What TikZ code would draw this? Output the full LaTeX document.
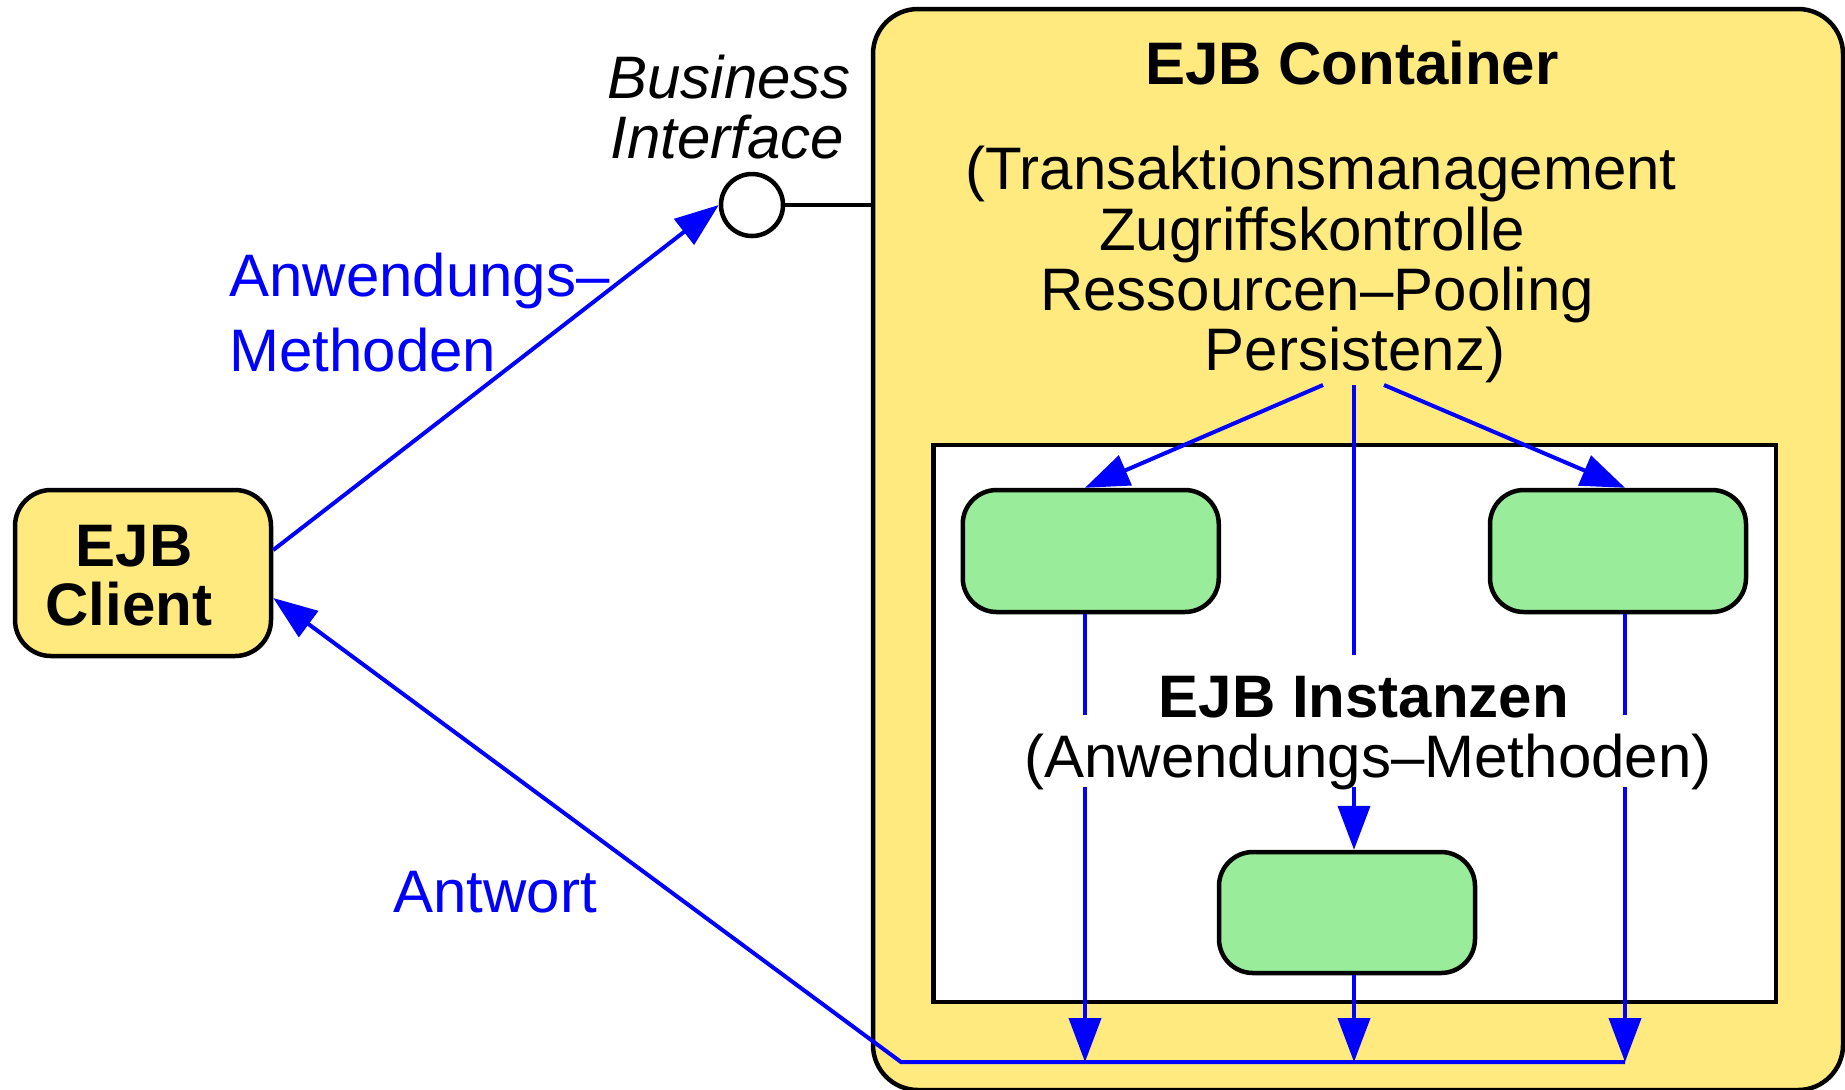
\documentclass[tikz,border=0pt]{standalone}
\usepackage{fontspec}
\setmainfont{Liberation Sans}
\usetikzlibrary{arrows.meta}
\definecolor{ejbyellow}{RGB}{255,234,128}
\definecolor{ejbgreen}{RGB}{153,236,153}
\definecolor{ejbblue}{RGB}{0,0,255}
\begin{document}
\begin{tikzpicture}[x=0.5pt,y=-0.5pt,
  txt/.style={font=\fontsize{30}{30}\selectfont, inner sep=0pt},
  boldtxt/.style={font=\fontsize{30}{30}\selectfont\bfseries, inner sep=0pt},
  itxt/.style={font=\fontsize{30}{30}\selectfont\itshape, inner sep=0pt},
  bluetxt/.style={txt, text=ejbblue},
  instbox/.style={draw=black, line width=2.25pt, fill=ejbgreen, rounded corners=17pt,
    minimum width=128pt, minimum height=61pt, inner sep=0pt},
  flow/.style={draw=ejbblue, line width=2pt},
  tipped/.style={-{Triangle[length=22pt,width=16pt]}},
  gapbox/.style={fill=white, inner xsep=0pt, inner ysep=0pt, text height=31pt},
]
\useasboundingbox (0,0) rectangle (1845,1089);
\clip (0,0) rectangle (1845,1089);

% container
\node[draw, line width=2.25pt, fill=ejbyellow, rounded corners=22.5pt,
  minimum width=485pt, minimum height=540.5pt, inner sep=0pt] (container) at (1358,549.5) {};
\node[draw, line width=2.25pt, fill=white, minimum width=421.25pt, minimum height=278.5pt,
  inner sep=0pt] (pool) at (1354.75,723.5) {};
\node[instbox] (inL) at (1090.75,551) {};
\node[instbox] (inR) at (1618,551) {};
\node[instbox, minimum height=60.5pt] (inB) at (1347,912.5) {};

% client
\node[draw, line width=2.25pt, fill=ejbyellow, rounded corners=18pt,
  minimum width=128pt, minimum height=83pt, inner sep=0pt] (client) at (143,573) {};
\node[boldtxt, anchor=base] (cl1) at (134,566) {EJB};
\node[boldtxt, anchor=base] (cl2) at (129,625) {Client};

% interface
\node[circle, draw, line width=2.25pt, fill=white, minimum size=31pt, inner sep=0pt] (iface) at (752,205) {};
\draw[line width=2pt] (iface.east) -- (iface.east -| container.west);
\node[itxt, anchor=base west] (bi1) at (607,98) {Business};
\node[itxt, anchor=base west] (bi2) at (610,158) {Interface};

% container texts
\node[boldtxt, anchor=base] (ctitle) at (1352,84) {EJB Container};
\node[txt, anchor=base] (s1) at (1321,189) {(Transaktionsmanagement};
\node[txt, anchor=base] (s2) at (1312,250) {Zugriffskontrolle};
\node[txt, anchor=base] (s3) at (1317,310) {Ressourcen–Pooling};
\node[txt, anchor=base] (s4) at (1355,370) {Persistenz)};

% coordinates
\coordinate (srcL) at (1323,385);
\coordinate (srcC) at (1354,385);
\coordinate (srcR) at (1384,385);
\coordinate (colL) at (1085,0);
\coordinate (colC) at (1354,0);
\coordinate (colR) at (1625,0);
\coordinate (busL) at (901,1062);
\coordinate (busR) at (1625,1062);

% flows inside container
\draw[flow,tipped] (srcL) -- (colL |- inL.north);
\draw[flow,tipped] (srcR) -- (colR |- inR.north);
\draw[flow,tipped] (srcC) -- (colC |- inB.north);
\draw[flow,tipped] (inL.south -| colL) -- (colL |- busL);
\draw[flow,tipped] (inR.south -| colR) -- (colR |- busL);
\draw[flow,tipped] (inB.south -| colC) -- (colC |- busL);

% instance labels (cover the lines)
\node[txt, gapbox, text depth=5pt, anchor=base] (it2) at (1368,777) {(Anwendungs–Methoden)};
\node[boldtxt, gapbox, text depth=2pt, anchor=base] (it1) at (1364,717) {EJB Instanzen};

% client connectors
\draw[flow,tipped] ([yshift=11.5pt]client.east) -- (iface.west);
\draw[flow,tipped] (busR) -- (busL) -- ([yshift=-12.5pt]client.east);

% blue labels
\node[bluetxt, anchor=base west] (lab1) at (229,296) {Anwendungs–};
\node[bluetxt, anchor=base west] (lab2) at (229,371) {Methoden};
\node[bluetxt, anchor=base west] (lab3) at (393,912) {Antwort};
\end{tikzpicture}
\end{document}
